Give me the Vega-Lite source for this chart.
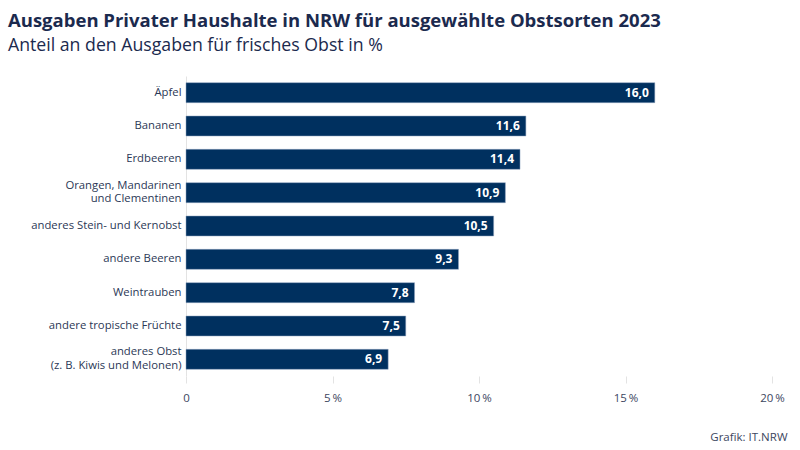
{
  "$schema": "https://vega.github.io/schema/vega-lite/v6.json",
  "width": 586,
  "height": 300,
  "autosize": {"type": "none"},
  "padding": {"left": 186, "top": 76, "right": 28, "bottom": 74},
  "background": "white",
  "title": {
    "text": "Ausgaben Privater Haushalte in NRW für ausgewählte Obstsorten 2023",
    "subtitle": "Anteil an den Ausgaben für frisches Obst in %",
    "anchor": "start",
    "frame": "group",
    "dx": -178,
    "offset": 21,
    "font": "Open Sans",
    "fontSize": 18.5,
    "fontWeight": "bold",
    "color": "#1b2a4e",
    "subtitleFont": "Open Sans",
    "subtitleFontSize": 17.7,
    "subtitleColor": "#1b2a4e",
    "subtitlePadding": 7
  },
  "config": {
    "view": {"stroke": null},
    "locale": {
      "number": {"decimal": ",", "thousands": ".", "grouping": [3], "currency": ["", " €"]}
    },
    "axis": {"labelFont": "Open Sans", "titleFont": "Open Sans"}
  },
  "data": {
    "values": [
      {"sorte": "Äpfel", "anteil": 16.0},
      {"sorte": "Bananen", "anteil": 11.6},
      {"sorte": "Erdbeeren", "anteil": 11.4},
      {"sorte": "Orangen, Mandarinen|und Clementinen", "anteil": 10.9},
      {"sorte": "anderes Stein- und Kernobst", "anteil": 10.5},
      {"sorte": "andere Beeren", "anteil": 9.3},
      {"sorte": "Weintrauben", "anteil": 7.8},
      {"sorte": "andere tropische Früchte", "anteil": 7.5},
      {"sorte": "anderes Obst|(z. B. Kiwis und Melonen)", "anteil": 6.9}
    ]
  },
  "encoding": {
    "y": {
      "field": "sorte",
      "type": "nominal",
      "sort": null,
      "scale": {"paddingInner": 0.4, "paddingOuter": 0.2},
      "axis": {
        "title": null,
        "domain": true,
        "domainColor": "#e3e3e3",
        "domainWidth": 1,
        "ticks": false,
        "labelPadding": 5,
        "labelFontSize": 11.3,
        "labelColor": "#2b3856",
        "labelLineHeight": 13.6,
        "labelOffset": {"condition": {"test": "indexof(datum.value, '|') >= 0", "value": -7}, "value": 0},
        "labelExpr": "split(datum.label, '|')"
      }
    },
    "x": {
      "field": "anteil",
      "type": "quantitative",
      "scale": {"domain": [0, 20], "nice": false},
      "axis": {
        "values": [0, 5, 10, 15, 20],
        "grid": false,
        "domain": false,
        "ticks": true,
        "tickColor": "#e3e3e3",
        "tickSize": 7,
        "labelFlush": false,
        "labelPadding": 9,
        "labelFontSize": 11.5,
        "labelColor": "#3c4660",
        "labelExpr": "datum.value == 0 ? '0' : datum.value + '\u2009%'",
        "title": "Grafik: IT.NRW",
        "titleFontSize": 11.5,
        "titleFontWeight": "normal",
        "titleColor": "#3c4660",
        "titleAnchor": "end",
        "titleAlign": "right",
        "titleX": 601,
        "titleY": 55
      }
    }
  },
  "layer": [
    {
      "mark": {"type": "bar", "color": "#00305f", "stroke": "#8fa3bf", "strokeWidth": 0.5}
    },
    {
      "mark": {
        "type": "text",
        "align": "right",
        "baseline": "middle",
        "dx": -6,
        "font": "Open Sans",
        "fontSize": 12,
        "fontWeight": "bold",
        "color": "white"
      },
      "encoding": {
        "text": {"field": "anteil", "type": "quantitative", "format": ".1f"}
      }
    }
  ]
}
